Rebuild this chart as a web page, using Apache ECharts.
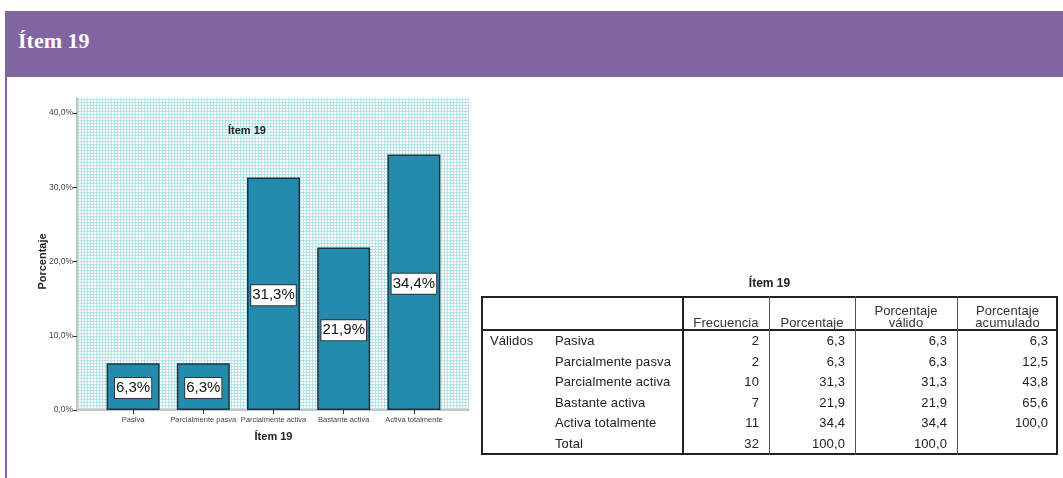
<!DOCTYPE html>
<html>
<head>
<meta charset="utf-8">
<script src="https://cdn.jsdelivr.net/npm/echarts@6/dist/echarts.min.js"></script>
<style>
  html, body { margin: 0; padding: 0; background: #fff; width: 1063px; height: 478px; overflow: hidden; position: relative; font-family: Arial, "Liberation Sans", sans-serif; }
  #band { position: absolute; left: 5px; top: 11px; width: 1058px; height: 66px; background: #8065a0; }
  #band span { position: absolute; left: 13px; top: 17px; line-height: 22px; font: bold 22px "Liberation Serif", "Times New Roman", serif; color: #fff; white-space: nowrap; }
  #rule { position: absolute; left: 5px; top: 77px; width: 2px; height: 401px; background: #8065a0; }
  #chart { position: absolute; left: 0; top: 0; width: 480px; height: 478px; z-index: 2; }
  #tbl { position: absolute; left: 0; top: 0; width: 1063px; height: 478px; z-index: 3; pointer-events: none; }
  #tbl div { position: absolute; box-sizing: border-box; white-space: nowrap; }
  .txt { font-size: 13px; color: #222; letter-spacing: 0.1px; }
</style>
</head>
<body>
<div id="band"><span>Ítem 19</span></div>
<div id="rule"></div>
<div id="chart"></div>
<div id="tbl"></div>
<script>
// Frequency table for "Ítem 19"
const itemTitle = 'Ítem 19';
const categories = ['Pasiva', 'Parcialmente pasva', 'Parcialmente activa', 'Bastante activa', 'Activa totalmente'];
const frecuencia = [2, 2, 10, 7, 11];
const porcentaje = [6.3, 6.3, 31.3, 21.9, 34.4];
const porcentajeValido = [6.3, 6.3, 31.3, 21.9, 34.4];
const porcentajeAcumulado = [6.3, 12.5, 43.8, 65.6, 100.0];
const totalFrecuencia = 32;
const totalPorcentaje = 100.0;
const totalValido = 100.0;
const yAxisMax = 40;
const yAxisStep = 10;
const columnHeaders = [['Frecuencia'], ['Porcentaje'], ['Porcentaje', 'válido'], ['Porcentaje', 'acumulado']];
const groupLabel = 'Válidos';
const totalLabel = 'Total';

const fmt = v => v.toFixed(1).replace('.', ',');

// Fine cyan mesh used as the plot background
const mesh = document.createElement('canvas');
mesh.width = 3; mesh.height = 3;
const mc = mesh.getContext('2d');
mc.fillStyle = '#ffffff'; mc.fillRect(0, 0, 3, 3);
mc.fillStyle = '#b6e4e8'; mc.fillRect(0, 0, 3, 1); mc.fillRect(0, 0, 1, 3);

const chart = echarts.init(document.getElementById('chart'), null, { renderer: 'canvas' });
const font = 'Arial, "Liberation Sans", sans-serif';
chart.setOption({
  animation: false,
  textStyle: { fontFamily: font },
  title: {
    text: itemTitle, left: 228, top: 125, padding: 0,
    textStyle: { fontSize: 11, fontWeight: 'bold', color: '#222', fontFamily: font }
  },
  grid: [
    { left: 77, top: 98, width: 392, height: 312, show: true, borderWidth: 0,
      backgroundColor: { image: mesh, repeat: 'repeat' } },
    { left: 98, top: 113, width: 351, height: 297 }
  ],
  xAxis: [
    { gridIndex: 0, type: 'value', min: 0, max: 1,
      axisLine: { show: true, lineStyle: { color: '#c6c6c6', width: 2 } },
      axisTick: { show: false }, axisLabel: { show: false }, splitLine: { show: false } },
    { gridIndex: 1, type: 'category', data: categories,
      axisLine: { show: false },
      axisTick: { show: true, alignWithLabel: true, length: 4, lineStyle: { color: '#333' } },
      axisLabel: { fontSize: 7.5, color: '#444', margin: 6, interval: 0, fontFamily: font },
      name: itemTitle, nameLocation: 'middle', nameGap: 21, nameMoveOverlap: false,
      nameTextStyle: { fontSize: 11, fontWeight: 'bold', color: '#222', fontFamily: font } }
  ],
  yAxis: [
    { gridIndex: 0, type: 'value', min: 0, max: 1,
      axisLine: { show: true, lineStyle: { color: '#c6c6c6', width: 2 } },
      axisTick: { show: false }, axisLabel: { show: false }, splitLine: { show: false } },
    { gridIndex: 1, type: 'value', min: 0, max: yAxisMax, interval: yAxisStep, offset: 21,
      axisLine: { show: false },
      axisTick: { show: true, length: 4, lineStyle: { color: '#333' } },
      axisLabel: { fontSize: 8.5, color: '#444', margin: 4, formatter: v => fmt(v) + '%', fontFamily: font },
      splitLine: { show: false },
      name: 'Porcentaje', nameLocation: 'middle', nameGap: 29, nameMoveOverlap: false,
      nameTextStyle: { fontSize: 11, fontWeight: 'bold', color: '#222', fontFamily: font } }
  ],
  series: [{
    type: 'bar', xAxisIndex: 1, yAxisIndex: 1,
    data: porcentaje, barWidth: 53,
    itemStyle: { color: '#238bac', borderColor: '#1d3540', borderWidth: 1.5 },
    label: {
      show: true, position: 'inside', offset: [0, 1.5],
      formatter: p => fmt(p.value) + '%',
      fontSize: 15, color: '#111', fontFamily: font, lineHeight: 17,
      backgroundColor: '#fff', borderColor: '#333', borderWidth: 1, padding: [2, 1, 1, 1]
    }
  }]
});

// Frequency table drawn beside the chart
const tbl = document.getElementById('tbl');
function box(css, text, cls) {
  const d = document.createElement('div');
  Object.assign(d.style, css);
  if (cls) d.className = cls;
  if (text !== undefined) d.innerHTML = text;
  tbl.appendChild(d);
  return d;
}
const L = 481, R = 1058, T = 296, HB = 330, B = 455;
const colEdges = [683, 769, 855, 957, R];
box({ left: L + 'px', width: (R - L) + 'px', top: '276px', height: '14px', lineHeight: '14px',
      textAlign: 'center', font: 'bold 12px ' + font, color: '#222' }, itemTitle);
box({ left: L + 'px', top: T + 'px', width: (R - L) + 'px', height: (B - T) + 'px', border: '2px solid #222' });
box({ left: L + 'px', top: (HB - 1) + 'px', width: (R - L) + 'px', height: '2px', background: '#222' });
box({ left: (colEdges[0] - 1) + 'px', top: T + 'px', width: '2px', height: (B - T) + 'px', background: '#222' });
for (let i = 1; i < colEdges.length - 1; i++) {
  box({ left: colEdges[i] + 'px', top: T + 'px', width: '1px', height: (B - T) + 'px', background: '#555' });
}
// header labels
columnHeaders.forEach((h, i) => {
  const x0 = colEdges[i], x1 = colEdges[i + 1];
  const n = h.length;
  box({ left: x0 + 'px', width: (x1 - x0) + 'px', top: (HB - 1 - 12 * n) + 'px', height: (12 * n) + 'px',
        lineHeight: '11.5px', textAlign: 'center', color: '#333' }, h.join('<br>'), 'txt');
});
// body rows
const rowH = 20.6, rowTop = 331;
const rows = categories.map((c, i) => [c, frecuencia[i], fmt(porcentaje[i]), fmt(porcentajeValido[i]), fmt(porcentajeAcumulado[i])]);
rows.push([totalLabel, totalFrecuencia, fmt(totalPorcentaje), fmt(totalValido), '']);
rows.forEach((r, i) => {
  const top = rowTop + i * rowH;
  if (i === 0) box({ left: '490px', top: top + 'px', height: rowH + 'px', lineHeight: rowH + 'px' }, groupLabel, 'txt');
  box({ left: '555px', top: top + 'px', height: rowH + 'px', lineHeight: rowH + 'px' }, r[0], 'txt');
  for (let k = 1; k < 5; k++) {
    const x0 = colEdges[k - 1], x1 = colEdges[k];
    box({ left: x0 + 'px', width: (x1 - x0 - 10) + 'px', top: top + 'px', height: rowH + 'px',
          lineHeight: rowH + 'px', textAlign: 'right' }, String(r[k]), 'txt');
  }
});
</script>
</body>
</html>
